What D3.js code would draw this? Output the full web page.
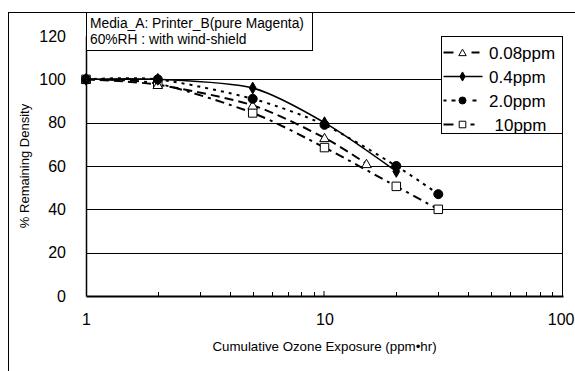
<!DOCTYPE html>
<html>
<head>
<meta charset="utf-8">
<script src="https://cdn.jsdelivr.net/npm/d3@7"></script>
<style>
  body { margin: 0; background: #fff; }
  svg { display: block; font-family: Arial, "Liberation Sans", sans-serif; }
</style>
</head>
<body>
<div id="chart"></div>
<script>
// data
const seriesNames = ["0.08ppm", "0.4ppm", "2.0ppm", "10ppm"];
const exposure008 = [1, 2, 5, 10, 15];
const density008 = [100, 97.5, 88, 73, 61];
const exposure04 = [1, 2, 5, 10, 20];
const density04 = [100, 100, 96, 80, 57.5];
const exposure2 = [1, 2, 5, 10, 20, 30];
const density2 = [100, 100, 91, 79, 60, 47];
const exposure10 = [1, 2, 5, 10, 20, 30];
const density10 = [100, 98, 84.5, 68.5, 50.6, 40];
const yTicks = [0, 20, 40, 60, 80, 100, 120];
const xTicks = [1, 10, 100];

const width = 575, height = 371;
const margin = { left: 86, right: 12, top: 36, bottom: 75 };

const svg = d3.select("#chart").append("svg")
    .attr("width", width)
    .attr("height", height);

// outer chart border
svg.append("rect")
    .attr("x", 8.5).attr("y", 12.5)
    .attr("width", 620).attr("height", 420)
    .attr("fill", "#fff")
    .attr("stroke", "#000").attr("stroke-width", 1);

const x = d3.scaleLog()
    .domain([1, 100])
    .range([margin.left, width - margin.right]);

const y = d3.scaleLinear()
    .domain([0, 120])
    .range([height - margin.bottom, margin.top]);

// gridlines
svg.append("g")
    .selectAll("line")
    .data(yTicks.filter(d => d > 0 && d < 120))
    .enter()
    .append("line")
    .attr("x1", x(1)).attr("x2", x(100))
    .attr("y1", d => Math.round(y(d)) + 0.5)
    .attr("y2", d => Math.round(y(d)) + 0.5)
    .attr("stroke", "#000")
    .attr("stroke-width", 1);

// right edge of plot area
svg.append("line")
    .attr("x1", x(100) - 0.5).attr("x2", x(100) - 0.5)
    .attr("y1", y(120)).attr("y2", y(0))
    .attr("stroke", "#000");

// y axis
const yAxis = svg.append("g")
    .attr("transform", `translate(${x(1)},0)`)
    .call(d3.axisLeft(y).tickValues(yTicks).tickSize(0).tickPadding(20));
yAxis.select(".domain").attr("stroke", "#000").attr("stroke-width", 1.5);
yAxis.selectAll("text").attr("font-size", 16).attr("fill", "#000")
    .attr("font-family", "Arial, 'Liberation Sans', sans-serif");

// x axis, minor ticks pointing inward
const minorTicks = d3.range(0, 2).flatMap(e => d3.range(2, 10).map(m => m * Math.pow(10, e)));
svg.append("g")
    .selectAll("line")
    .data(minorTicks)
    .enter()
    .append("line")
    .attr("x1", d => Math.round(x(d)) + 0.5).attr("x2", d => Math.round(x(d)) + 0.5)
    .attr("y1", y(0)).attr("y2", y(0) - 4)
    .attr("stroke", "#000");
svg.append("g")
    .selectAll("line")
    .data([10, 100])
    .enter()
    .append("line")
    .attr("x1", d => x(d) - 0.5).attr("x2", d => x(d) - 0.5)
    .attr("y1", y(0)).attr("y2", y(0) - 5)
    .attr("stroke", "#000");

const xAxis = svg.append("g")
    .attr("transform", `translate(0,${y(0)})`)
    .call(d3.axisBottom(x).tickValues(xTicks).tickFormat(d3.format("d")).tickSize(0).tickPadding(18));
xAxis.select(".domain").attr("stroke", "#000").attr("stroke-width", 2);
xAxis.selectAll("text").attr("font-size", 16).attr("fill", "#000")
    .attr("font-family", "Arial, 'Liberation Sans', sans-serif");
// last label sits against the window edge; keep it inside
xAxis.selectAll(".tick text").filter(d => d === 100)
    .attr("text-anchor", "end")
    .attr("x", width - 1 - x(100));

// axis titles
svg.append("text")
    .attr("x", x(10))
    .attr("y", 351)
    .attr("text-anchor", "middle")
    .attr("font-size", 13.3)
    .text("Cumulative Ozone Exposure (ppm\u2022hr)");

svg.append("text")
    .attr("transform", `translate(29,${(y(0) + y(120)) / 2}) rotate(-90)`)
    .attr("text-anchor", "middle")
    .attr("font-size", 13)
    .text("% Remaining Density");

// series
const series = [
    { name: seriesNames[0], xs: exposure008, ys: density008, dash: "9,5", width: 2, marker: "triangle",
      sample: [[2, 12], [30, 38]] },
    { name: seriesNames[1], xs: exposure04, ys: density04, dash: null, width: 1.5, marker: "diamond",
      sample: [[2, 41]] },
    { name: seriesNames[2], xs: exposure2, ys: density2, dash: "3,5", width: 2, marker: "circle",
      sample: [[2, 5], [10, 14], [31, 35]] },
    { name: seriesNames[3], xs: exposure10, ys: density10, dash: "9,5,3,5", width: 2, marker: "square",
      sample: [[2, 12], [29, 33]] }
];

const line = d3.line()
    .x(d => x(d[0]))
    .y(d => y(d[1]))
    .curve(d3.curveCardinal.tension(0.2));

const symbolFor = {
    triangle: { type: d3.symbolTriangle, size: 40, fill: "#fff" },
    diamond: { type: d3.symbolDiamond, size: 40, fill: "#000" },
    circle: { type: d3.symbolCircle, size: 64, fill: "#000" },
    square: { type: d3.symbolSquare, size: 72, fill: "#fff" }
};

function drawMarker(g, kind, cx, cy, k = 1) {
    const s = symbolFor[kind];
    g.append("path")
        .attr("d", d3.symbol().type(s.type).size(s.size * k)())
        .attr("transform", `translate(${cx},${cy + (kind === "triangle" ? 1 : 0)})`)
        .attr("fill", s.fill)
        .attr("stroke", "#000")
        .attr("stroke-width", 1);
}

series.forEach(s => {
    const pts = s.xs.map((v, i) => [v, s.ys[i]]);
    svg.append("path")
        .datum(pts)
        .attr("d", line)
        .attr("fill", "none")
        .attr("stroke", "#000")
        .attr("stroke-width", s.width)
        .attr("stroke-dasharray", s.dash);
});
// markers: squares first, circles last (as stacked in the picture)
[3, 0, 1, 2].forEach(i => {
    const s = series[i];
    const g = svg.append("g");
    s.xs.forEach((v, j) => drawMarker(g, s.marker, x(v), y(s.ys[j])));
});

// title box
const titleBox = svg.append("g");
titleBox.append("rect")
    .attr("x", 86.5).attr("y", 12.5)
    .attr("width", 226).attr("height", 38)
    .attr("fill", "#fff").attr("stroke", "#000");
titleBox.append("text")
    .attr("x", 90).attr("y", 28)
    .attr("font-size", 13.8)
    .text("Media_A: Printer_B(pure Magenta)");
titleBox.append("text")
    .attr("x", 90).attr("y", 44)
    .attr("font-size", 13.8)
    .text("60%RH : with wind-shield");

// legend
const legend = svg.append("g").attr("transform", "translate(441.5,36.5)");
legend.append("rect")
    .attr("width", 121).attr("height", 97)
    .attr("fill", "#fff").attr("stroke", "#000");
series.forEach((s, i) => {
    const ly = 16 + i * 24;
    s.sample.forEach(seg => {
        legend.append("line")
            .attr("x1", seg[0]).attr("x2", seg[1])
            .attr("y1", ly).attr("y2", ly)
            .attr("stroke", "#000")
            .attr("stroke-width", s.width);
    });
    drawMarker(legend, s.marker, 21, ly, 0.6);
    legend.append("text")
        .attr("x", s.name === "10ppm" ? 53 : 47.5)
        .attr("y", ly + 6)
        .attr("font-size", 17)
        .text(s.name);
});
</script>
</body>
</html>
